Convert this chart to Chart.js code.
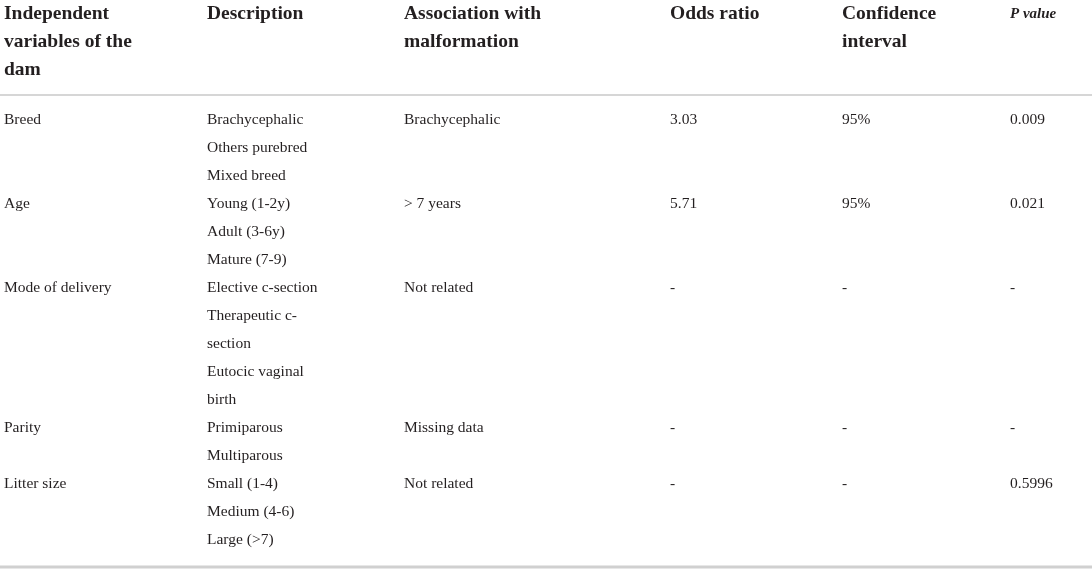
<!DOCTYPE html>
<html>
<head>
<meta charset="utf-8">
<script src="https://cdn.jsdelivr.net/npm/chart.js@4.4.0/dist/chart.umd.min.js"></script>
<style>
  html, body { margin: 0; padding: 0; background: #fff; }
  #wrap { width: 1092px; height: 572px; }
</style>
</head>
<body>
<div id="wrap"><canvas id="myChart" width="1092" height="572"></canvas></div>
<script>
// table content
const headers = [
    'Independent\nvariables of the\ndam',
    'Description',
    'Association with\nmalformation',
    'Odds ratio',
    'Confidence\ninterval',
    'P value'
];
const variables = ['Breed', 'Age', 'Mode of delivery', 'Parity', 'Litter size'];
const descriptions = [
    ['Brachycephalic', 'Others purebred', 'Mixed breed'],
    ['Young (1-2y)', 'Adult (3-6y)', 'Mature (7-9)'],
    ['Elective c-section', 'Therapeutic c-\nsection', 'Eutocic vaginal\nbirth'],
    ['Primiparous', 'Multiparous'],
    ['Small (1-4)', 'Medium (4-6)', 'Large (>7)']
];
const associations = ['Brachycephalic', '> 7 years', 'Not related', 'Missing data', 'Not related'];
const oddsRatios = ['3.03', '5.71', '-', '-', '-'];
const confidence = ['95%', '95%', '-', '-', '-'];
const pValues = ['0.009', '0.021', '-', '-', '0.5996'];

// layout: left edge of each column (px across the table) and line height
const colLeft = [4, 207, 404, 670, 842, 1010];
const lineH = 28;
const firstLine = 120;  // centre of first body line
const headerTop = 14;   // centre of first header line
const headRule = 95;
const footRule = 567;

const toLine = px => (px - firstLine) / lineH;

// build cells
const headCells = [];
headers.forEach((h, c) => {
    h.split('\n').forEach((t, i) => {
        headCells.push({ x: colLeft[c], y: toLine(headerTop) + i, text: t });
    });
});

const bodyCells = [];
let line = 0;
variables.forEach((v, r) => {
    const cols = [v, null, associations[r], oddsRatios[r], confidence[r], pValues[r]];
    cols.forEach((t, c) => {
        if (t !== null) bodyCells.push({ x: colLeft[c], y: line, text: t });
    });
    let k = line;
    descriptions[r].forEach(d => {
        d.split('\n').forEach(t => {
            bodyCells.push({ x: colLeft[1], y: k, text: t });
            k++;
        });
    });
    line = k;
});

const textPlugin = {
    id: 'cellText',
    afterDatasetsDraw(chart) {
        const c = chart.ctx;
        chart.data.datasets.forEach((ds, i) => {
            if (!ds.textFont) return;
            const meta = chart.getDatasetMeta(i);
            c.save();
            c.fillStyle = '#231f20';
            c.textBaseline = 'middle';
            c.textAlign = 'left';
            meta.data.forEach((el, j) => {
                const cell = ds.data[j];
                c.font = (cell.text === 'P value') ? 'italic bold 15px "Liberation Serif"' : ds.textFont;
                c.fillText(cell.text, el.x, el.y);
            });
            c.restore();
        });
    }
};

const bgPlugin = {
    id: 'bg',
    beforeDraw(chart) {
        const c = chart.ctx;
        c.save();
        c.fillStyle = '#fff';
        c.fillRect(0, 0, chart.width, chart.height);
        c.restore();
    }
};

const ctx = document.getElementById('myChart').getContext('2d');
new Chart(ctx, {
    type: 'scatter',
    data: {
        datasets: [
            {
                label: 'header',
                data: headCells,
                pointRadius: 0,
                textFont: 'bold 19.5px "Liberation Serif"'
            },
            {
                label: 'body',
                data: bodyCells,
                pointRadius: 0,
                textFont: '15.5px "Liberation Serif"'
            },
            {
                label: 'headRule',
                type: 'line',
                data: [{ x: 0, y: toLine(headRule) }, { x: 1092, y: toLine(headRule) }],
                borderColor: '#c9c9c9',
                borderWidth: 1.5,
                pointRadius: 0
            },
            {
                label: 'footRule',
                type: 'line',
                data: [{ x: 0, y: toLine(footRule) }, { x: 1092, y: toLine(footRule) }],
                borderColor: '#d0d0d0',
                borderWidth: 3,
                pointRadius: 0
            }
        ]
    },
    options: {
        responsive: false,
        animation: false,
        layout: { padding: 0 },
        plugins: {
            legend: { display: false },
            tooltip: { enabled: false }
        },
        scales: {
            x: { type: 'linear', display: false, min: 0, max: 1092 },
            y: { type: 'linear', display: false, reverse: true, min: toLine(0), max: toLine(572) }
        }
    },
    plugins: [bgPlugin, textPlugin]
});
</script>
</body>
</html>
